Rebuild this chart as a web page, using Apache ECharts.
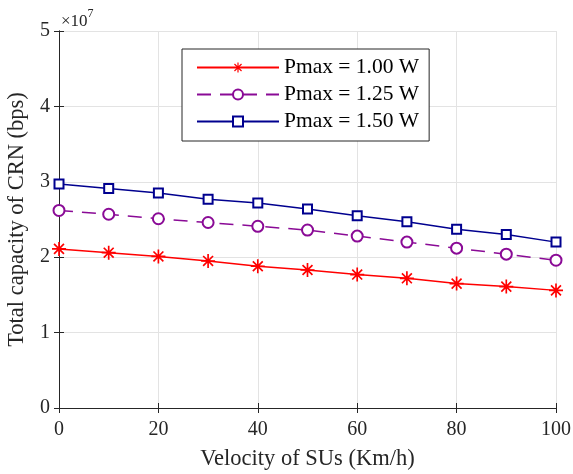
<!DOCTYPE html>
<html>
<head>
<meta charset="utf-8">
<script src="https://cdn.jsdelivr.net/npm/echarts@6/dist/echarts.min.js"></script>
<style>
    html, body { margin: 0; padding: 0; background: #fff; }
    #chart { width: 573px; height: 474px; }
</style>
</head>
<body>
<div id="chart"></div>
<script>
// velocity of SUs (Km/h)
const velocity = [0, 10, 20, 30, 40, 50, 60, 70, 80, 90, 100];
// total capacity, in units of 10^7 bps
const cap100 = [2.11, 2.06, 2.01, 1.95, 1.88, 1.83, 1.77, 1.72, 1.65, 1.61, 1.56];
const cap125 = [2.62, 2.57, 2.51, 2.46, 2.41, 2.36, 2.28, 2.20, 2.12, 2.04, 1.96];
const cap150 = [2.97, 2.91, 2.85, 2.77, 2.72, 2.64, 2.55, 2.47, 2.37, 2.30, 2.20];
const names = ["Pmax = 1.00 W", "Pmax = 1.25 W", "Pmax = 1.50 W"];

const font = "Liberation Serif";
const axisColor = "#262626";

// asterisk marker made of four filled bars
const star = "path://M-1.2,-10H1.2V10H-1.2Z M-10,-1.2H10V1.2H-10Z " +
    "M-6.22,-7.92L7.92,6.22L6.22,7.92L-7.92,-6.22Z " +
    "M7.92,-6.22L-6.22,7.92L-7.92,6.22L6.22,-7.92Z";

const pairs = arr => arr.map((v, i) => [velocity[i], v]);

const chart = echarts.init(document.getElementById("chart"));

const frameAxis = {
    min: 0,
    axisLine: { show: true, lineStyle: { color: axisColor, width: 1 } },
    axisTick: { show: true, inside: true, length: 5, lineStyle: { color: axisColor } },
    splitLine: { show: false },
    axisLabel: { show: false },
};

chart.setOption({
    animation: false,
    backgroundColor: "#fff",
    grid: { left: 59, right: 17, top: 31, bottom: 66, outerBoundsMode: "none" },
    textStyle: { fontFamily: font },
    xAxis: [{
        type: "value",
        min: 0, max: 100, interval: 20,
        name: "Velocity of SUs (Km/h)",
        nameLocation: "middle",
        nameGap: 40,
        nameTextStyle: { fontFamily: font, fontSize: 22.5, color: axisColor },
        axisLine: { show: true, onZero: false, lineStyle: { color: axisColor, width: 1 } },
        axisTick: { show: true, inside: true, length: 5, lineStyle: { color: axisColor } },
        axisLabel: { fontFamily: font, fontSize: 20, color: axisColor, margin: 12 },
        splitLine: { show: true, lineStyle: { color: "#e3e3e3", width: 1 } },
    }, Object.assign({}, frameAxis, {
        type: "value", position: "top", max: 100, interval: 20,
    })],
    yAxis: [{
        type: "value",
        min: 0, max: 5, interval: 1,
        name: "Total capacity of CRN (bps)",
        nameLocation: "middle",
        nameGap: 30,
        nameTextStyle: { fontFamily: font, fontSize: 22.5, color: axisColor },
        axisLine: { show: true, onZero: false, lineStyle: { color: axisColor, width: 1 } },
        axisTick: { show: true, inside: true, length: 5, lineStyle: { color: axisColor } },
        axisLabel: { fontFamily: font, fontSize: 20, color: axisColor, margin: 9 },
        splitLine: { show: true, lineStyle: { color: "#e3e3e3", width: 1 } },
    }, Object.assign({}, frameAxis, {
        type: "value", position: "right", max: 5, interval: 1,
    })],
    legend: {
        left: 182, top: 49,
        orient: "vertical",
        itemWidth: 82, itemHeight: 12.5, itemGap: 5,
        padding: [7.5, 10, 8.5, 14],
        backgroundColor: "#fff",
        borderColor: axisColor, borderWidth: 1,
        textStyle: { fontFamily: font, fontSize: 21.5, color: "#000" },
        data: names,
    },
    graphic: [{
        type: "text",
        left: 61, top: 8,
        style: {
            text: "{a|×10}{b|7}",
            rich: {
                a: { fontFamily: font, fontSize: 17, fill: axisColor, verticalAlign: "bottom" },
                b: { fontFamily: font, fontSize: 12, fill: axisColor, padding: [0, 0, 10, 0] },
            },
        },
    }],
    series: [{
        name: names[0], type: "line", data: pairs(cap100),
        symbol: star, symbolSize: 14,
        lineStyle: { color: "#ff0000", width: 1.5 },
        itemStyle: { color: "#ff0000" },
    }, {
        name: names[1], type: "line", data: pairs(cap125),
        symbol: "emptyCircle", symbolSize: 11,
        lineStyle: { color: "#8a0a96", width: 1.5, type: [14, 9] },
        itemStyle: { color: "#8a0a96", borderWidth: 1.5 },
    }, {
        name: names[2], type: "line", data: pairs(cap150),
        symbol: "emptyRect", symbolSize: 9,
        lineStyle: { color: "#00008f", width: 1.5 },
        itemStyle: { color: "#00008f", borderWidth: 1.5 },
    }],
});
</script>
</body>
</html>
